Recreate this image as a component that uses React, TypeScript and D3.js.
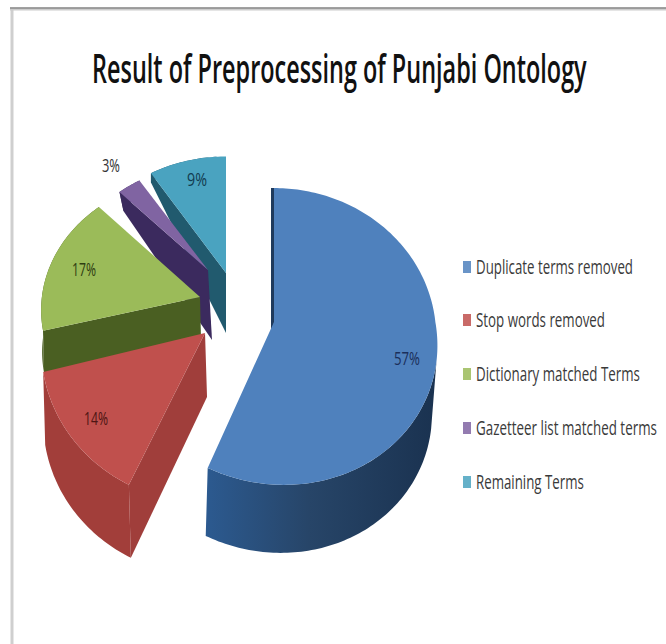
import React, { useLayoutEffect, useRef } from "react";
import * as d3 from "d3";

const categories = [
  "Duplicate terms removed",
  "Stop words removed",
  "Dictionary matched Terms",
  "Gazetteer list matched terms",
  "Remaining Terms",
];
const shares = [57, 14, 17, 3, 9];
const tickLabels = ["57%", "14%", "17%", "3%", "9%"];
const chartTitle = "Result of Preprocessing of Punjabi Ontology";

const topColors = ["#4f81bd", "#c0504d", "#9bbb59", "#8064a2", "#4aa3c0"];
const faceColors = ["#1f3a5c", "#a03e3b", "#4a5f22", "#3b2a5e", "#215a6e"];
const rimColors = ["url(#blueWall)", "#a23e3a", "#4a5f22", "#3b2a5e", "#215a6e"];
const labelColors = ["#1b2f5a", "#4d1513", "#2f3d12", "#333333", "#123c50"];

// Each exploded wedge is projected around its own apex.
const apexX = [274, 205, 200, 208, 226];
const apexY = [322, 333, 297, 270, 273];
const scaleX = [0.99, 1, 0.97, 0.85, 0.93];
const scaleY = [1, 1.04, 0.9, 0.78, 0.87];
const nearSkew = [10, 0, 0, 0, 0];
const depthIn = [68, 64, 42, 70, 60];
const depthOut = [68, 73, 42, 70, 60];
const depthDx = [-3, 2, 1, 4, 0];
const labelX = [407, 96, 84, 111, 197];
const labelY = [358, 418, 269, 165, 179];
const labelW = [26, 24, 24, 18, 20];

const legendY = [267, 320, 374, 428, 482];
const legendW = [157, 129, 164, 181, 108];

const RX = 163;
const RY = 147;
const PERSPECTIVE = 0.0976;
const WALL_FROM = (105 * Math.PI) / 180;

type Pt = [number, number];

function project(i: number, angle: number, r = 1): Pt {
  const u = Math.sin(angle) * r;
  const v = Math.cos(angle) * r;
  const d = 1 + PERSPECTIVE * v;
  return [
    apexX[i] + (RX * scaleX[i] * u) / d - nearSkew[i] * Math.min(v, 0),
    apexY[i] - (RY * scaleY[i] * v) / d,
  ];
}

// The far part of a wedge is drawn with a thinner side than the near part.
function rimDepth(i: number, angle: number) {
  return depthOut[i] * (1 - Math.max(Math.cos(angle), 0));
}

function lower(i: number, angle: number): Pt {
  const p = project(i, angle);
  return [p[0] + depthDx[i], p[1] + rimDepth(i, angle)];
}

const cross = (a: Pt, b: Pt) => a[0] * b[1] - a[1] * b[0];
const line = d3.line<Pt>();

function samples(a0: number, a1: number) {
  const n = Math.max(2, Math.ceil(Math.abs(a1 - a0) / 0.02));
  return d3.range(n + 1).map((k) => a0 + ((a1 - a0) * k) / n);
}

// Condensed text: the glyphs are squeezed horizontally to a given width.
function NarrowText(props: {
  x: number;
  y: number;
  width: number;
  size: number;
  weight?: number;
  fill: string;
  children: string;
}) {
  const { x, y, width, size, weight, fill, children } = props;
  const ref = useRef<SVGTextElement>(null);
  useLayoutEffect(() => {
    const node = ref.current!;
    const natural = node.getComputedTextLength();
    node.setAttribute("transform", `translate(${x},${y}) scale(${width / natural},1)`);
  }, [x, y, width, children]);
  return (
    <text ref={ref} fontSize={size} fontWeight={weight} fill={fill} transform={`translate(${x},${y})`}>
      {children}
    </text>
  );
}

export default function App() {
  const arcs = d3
    .pie<number>()
    .sort(null)
    .startAngle(0)
    .endAngle(2 * Math.PI)(shares);

  // Painted back to front so nearer wedges cover the ones behind them.
  const order = [4, 3, 2, 1, 0];

  return (
    <svg
      width={666}
      height={644}
      style={{ position: "absolute", left: 0, top: 0, background: "#fff" }}
      fontFamily="'Open Sans', 'Noto Sans', sans-serif"
    >
      <defs>
        <linearGradient id="blueWall" x1="0" x2="1" y1="0" y2="0">
          <stop offset="0" stopColor="#2c5a90" />
          <stop offset="0.45" stopColor="#274568" />
          <stop offset="1" stopColor="#1a3250" />
        </linearGradient>
      </defs>

      <path d="M12,644 V9" fill="none" stroke="#cfcfcf" strokeWidth={3} />
      <path d="M10,9 H666" fill="none" stroke="#cccccc" strokeWidth={3} />
      <path d="M10,8 H666" fill="none" stroke="#8a8a8a" strokeWidth={1.5} />

      <NarrowText x={92} y={83} width={495} size={39} weight={600} fill="#111">
        {chartTitle}
      </NarrowText>

      {order.map((i) => {
        const { startAngle, endAngle } = arcs[i];
        const mid = (startAngle + endAngle) / 2;
        const apex: Pt = [apexX[i], apexY[i]];
        const apexLow: Pt = [apex[0] + depthDx[i], apex[1] + depthIn[i]];
        const midPt = project(i, mid);
        const midDir: Pt = [midPt[0] - apex[0], midPt[1] - apex[1]];

        // A cut face shows only when the drop points away from the wedge's interior.
        const faces = [startAngle, endAngle].flatMap((a, k) => {
          const rim = project(i, a);
          const edge: Pt = [rim[0] - apex[0], rim[1] - apex[1]];
          const inner = cross(edge, midDir);
          const drop = cross(edge, [depthDx[i], depthIn[i]]);
          if (inner * drop >= 0) return [];
          return [
            <path
              key={`face${k}`}
              d={line([apex, rim, lower(i, a), apexLow])! + "Z"}
              fill={faceColors[i]}
            />,
          ];
        });

        const wallStart = Math.max(startAngle, WALL_FROM);
        const wallAngles = wallStart < endAngle ? samples(wallStart, endAngle) : [];
        const wall = wallAngles.length
          ? line([
              ...wallAngles.map((a) => project(i, a)),
              ...wallAngles
                .slice()
                .reverse()
                .map((a) => {
                  const p = lower(i, a);
                  return [apex[0] + (p[0] - apex[0]) * (i === 0 ? 0.985 : 1), p[1]] as Pt;
                }),
            ])! + "Z"
          : null;

        const top =
          line([apex, ...samples(startAngle, endAngle).map((a) => project(i, a))])! + "Z";

        return (
          <g key={categories[i]}>
            {faces}
            {wall && <path d={wall} fill={rimColors[i]} />}
            <path d={top} fill={topColors[i]} />
          </g>
        );
      })}

      {tickLabels.map((t, i) => (
        <NarrowText
          key={t}
          x={labelX[i] - labelW[i] / 2}
          y={labelY[i] + 7}
          width={labelW[i]}
          size={19}
          fill={labelColors[i]}
        >
          {t}
        </NarrowText>
      ))}

      {categories.map((c, i) => (
        <g key={c}>
          <rect x={463} y={legendY[i] - 6} width={8} height={12} fill={topColors[i]} opacity={0.85} />
          <NarrowText x={476} y={legendY[i] + 7} width={legendW[i]} size={20} fill="#3a3a3a">
            {c}
          </NarrowText>
        </g>
      ))}
    </svg>
  );
}
